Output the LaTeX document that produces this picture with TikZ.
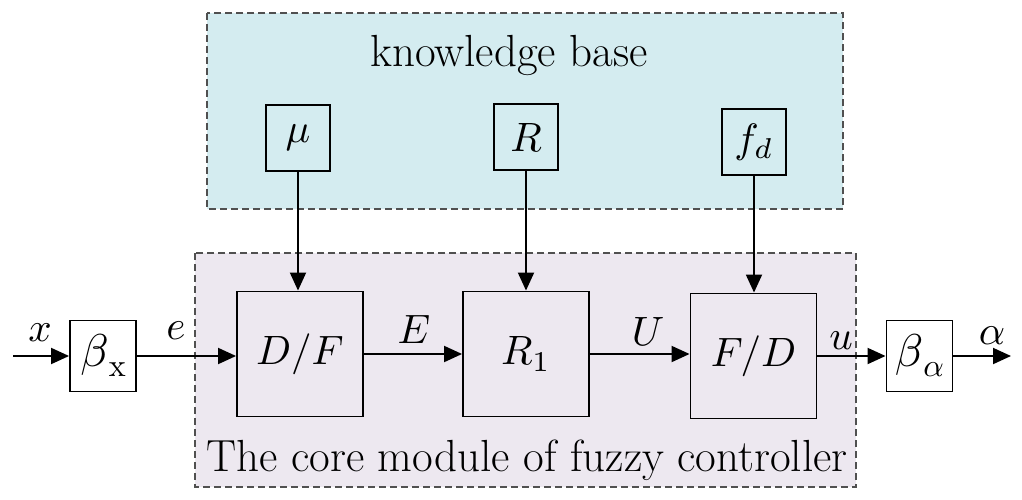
\documentclass[tikz,border=0pt]{standalone}
\usepackage{graphicx}
\usetikzlibrary{arrows.meta}
\definecolor{kbfill}{RGB}{212,236,240}
\definecolor{corefill}{RGB}{237,232,240}
\definecolor{dashgray}{RGB}{80,80,80}
\newcommand{\bigmath}[1]{\scalebox{4.1}{$#1$}}
\newcommand{\gainlbl}[1]{\scalebox{4.6}{$\beta$}\raisebox{-10pt}{\scalebox{3.2}{$#1$}}}
\begin{document}
\begin{tikzpicture}[x=1pt,y=-1pt,
  every node/.style={font=\fontsize{10}{12}\selectfont, inner sep=0pt},
  region/.style={draw=dashgray, line width=1.2pt, dash pattern=on 7pt off 4pt},
  blk/.style={draw=black, line width=1.9pt, align=center},
  smallbox/.style={blk, minimum width=64pt, minimum height=66pt},
  bigbox/.style={blk, minimum width=126pt, minimum height=125pt},
  gainbox/.style={blk, minimum width=66pt, minimum height=71pt, fill=white},
  arr/.style={line width=1.9pt, -{Triangle[length=18pt,width=16pt]}},
  ttl/.style={font=\fontsize{45}{54}\selectfont, anchor=base}
]
\useasboundingbox (0,0) rectangle (1022,500);
% regions
\draw[region, fill=kbfill] (207,13) rectangle (843,209);
\draw[region, fill=corefill] (195,253) rectangle (856,487);
\node[ttl] (kbt) at (509,67) {knowledge base};
\node[ttl] (coret) at (527,471) {The core module of fuzzy controller};
% knowledge boxes
\node[smallbox] (mu) at (298,138) {\bigmath{\mu}};
\node[smallbox] (R) at (526,137) {\bigmath{R}};
\node[smallbox] (fd) at (754,142) {\bigmath{f_d}};
% core boxes
\node[bigbox] (df) at (300,354) {\bigmath{D/F}};
\node[bigbox] (r1) at (526,354) {\bigmath{R_1}};
\node[bigbox] (fdb) at (753.5,356) {\bigmath{F/D}};
% gain boxes
\node[gainbox] (bx) at (103,356) {\gainlbl{\mathrm{x}}};
\node[gainbox] (ba) at (919.5,356) {\gainlbl{\alpha}};
% free ends
\coordinate (xin) at (13,356);
\coordinate (aout) at (1011,356);
% connectors
\draw[arr] (xin) -- (bx.west);
\draw[arr] (bx.east) -- (bx.east -| df.west);
\draw[arr] (df.east) -- (df.east -| r1.west);
\draw[arr] (r1.east) -- (r1.east -| fdb.west);
\draw[arr] (fdb.east) -- (fdb.east -| ba.west);
\draw[arr] (ba.east) -- (aout);
\draw[arr] (mu.south) -- (mu.south |- df.north);
\draw[arr] (R.south) -- (R.south |- r1.north);
\draw[arr] (fd.south) -- (fd.south |- fdb.north);
% signal labels
\node (lx) at (40,333) {\bigmath{x}};
\node (le) at (176,331) {\bigmath{e}};
\node (lE) at (414,329) {\bigmath{E}};
\node (lU) at (648,331) {\bigmath{U}};
\node (lu) at (841,341) {\bigmath{u}};
\node (la) at (992,336) {\bigmath{\alpha}};
\end{tikzpicture}
\end{document}
